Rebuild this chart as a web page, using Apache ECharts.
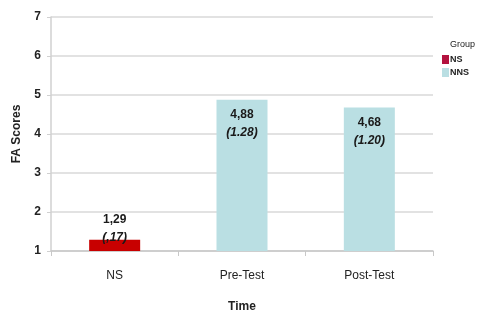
<!DOCTYPE html>
<html>
<head>
<meta charset="utf-8">
<script src="https://cdn.jsdelivr.net/npm/echarts@6/dist/echarts.min.js"></script>
<style>
  html, body { margin: 0; padding: 0; background: #fff; }
  #chart { width: 479px; height: 312px; }
</style>
</head>
<body>
<div id="chart"></div>
<script>
const categories = ['NS', 'Pre-Test', 'Post-Test'];
const nsValues = [1.29, null, null];
const nnsValues = [null, 4.88, 4.68];
const meanLabels = ['1,29', '4,88', '4,68'];
const sdLabels = ['(,17)', '(1.28)', '(1.20)'];
const yTicks = { min: 1, max: 7, interval: 1 };

const richLabel = {
  m: { fontSize: 12, fontWeight: 'bold', color: '#1a1a1a', lineHeight: 18, fontFamily: 'Liberation Sans' },
  s: { fontSize: 12, fontWeight: 'bold', fontStyle: 'italic', color: '#1a1a1a', lineHeight: 18, fontFamily: 'Liberation Sans' }
};

function labelText(p) {
  return '{m|' + meanLabels[p.dataIndex] + '}\n{s|' + sdLabels[p.dataIndex] + '}';
}

let myChart = echarts.init(document.getElementById('chart'), null, { renderer: 'canvas' });
myChart.setOption({
  animation: false,
  title: {
    text: 'Group',
    left: 445,
    top: 35,
    textStyle: { fontSize: 9, fontWeight: 'normal', color: '#222', fontFamily: 'Liberation Sans' }
  },
  legend: {
    orient: 'vertical',
    left: 437,
    top: 50,
    itemWidth: 7,
    itemHeight: 9,
    itemGap: 4,
    icon: 'rect',
    textStyle: { fontSize: 9, fontWeight: 'bold', color: '#222', padding: [0, 0, 0, -4], fontFamily: 'Liberation Sans' },
    data: [
      { name: 'NS', itemStyle: { color: '#b3123f' } },
      { name: 'NNS' }
    ]
  },
  grid: { left: 51, right: 46, top: 17, bottom: 61, outerBoundsMode: 'none', containLabel: false },
  xAxis: {
    type: 'category',
    data: categories,
    name: 'Time',
    nameLocation: 'middle',
    nameGap: 50,
    nameTextStyle: { fontSize: 12, fontWeight: 'bold', color: '#222', fontFamily: 'Liberation Sans' },
    axisLine: { lineStyle: { color: '#c8c8c8', width: 1.5 } },
    axisTick: { show: true, length: 5, lineStyle: { color: '#c8c8c8' } },
    axisLabel: { margin: 19, fontSize: 12, color: '#222', fontFamily: 'Liberation Sans' }
  },
  yAxis: {
    type: 'value',
    min: yTicks.min,
    max: yTicks.max,
    interval: yTicks.interval,
    name: 'FA Scores',
    nameLocation: 'middle',
    nameRotate: 90,
    nameGap: 28,
    nameTextStyle: { fontSize: 12, fontWeight: 'bold', color: '#222', fontFamily: 'Liberation Sans' },
    axisLine: { show: true, lineStyle: { color: '#d0d0d0', width: 1.5 } },
    axisTick: { show: true, length: 4, lineStyle: { color: '#d0d0d0' } },
    axisLabel: { margin: 10, fontSize: 12, fontWeight: 'bold', color: '#222', fontFamily: 'Liberation Sans' },
    splitLine: { lineStyle: { color: '#d9d9d9', width: 1.5 } }
  },
  series: [
    {
      name: 'NS',
      type: 'bar',
      stack: 'g',
      barWidth: 51,
      data: nsValues,
      itemStyle: { color: '#c80000' },
      label: {
        show: true,
        position: 'top',
        distance: -7,
        formatter: labelText,
        rich: richLabel
      }
    },
    {
      name: 'NNS',
      type: 'bar',
      stack: 'g',
      barWidth: 51,
      data: nnsValues,
      itemStyle: { color: '#badfe3' },
      label: {
        show: true,
        position: 'insideTop',
        distance: 6,
        formatter: labelText,
        rich: richLabel
      }
    }
  ]
});
</script>
</body>
</html>
